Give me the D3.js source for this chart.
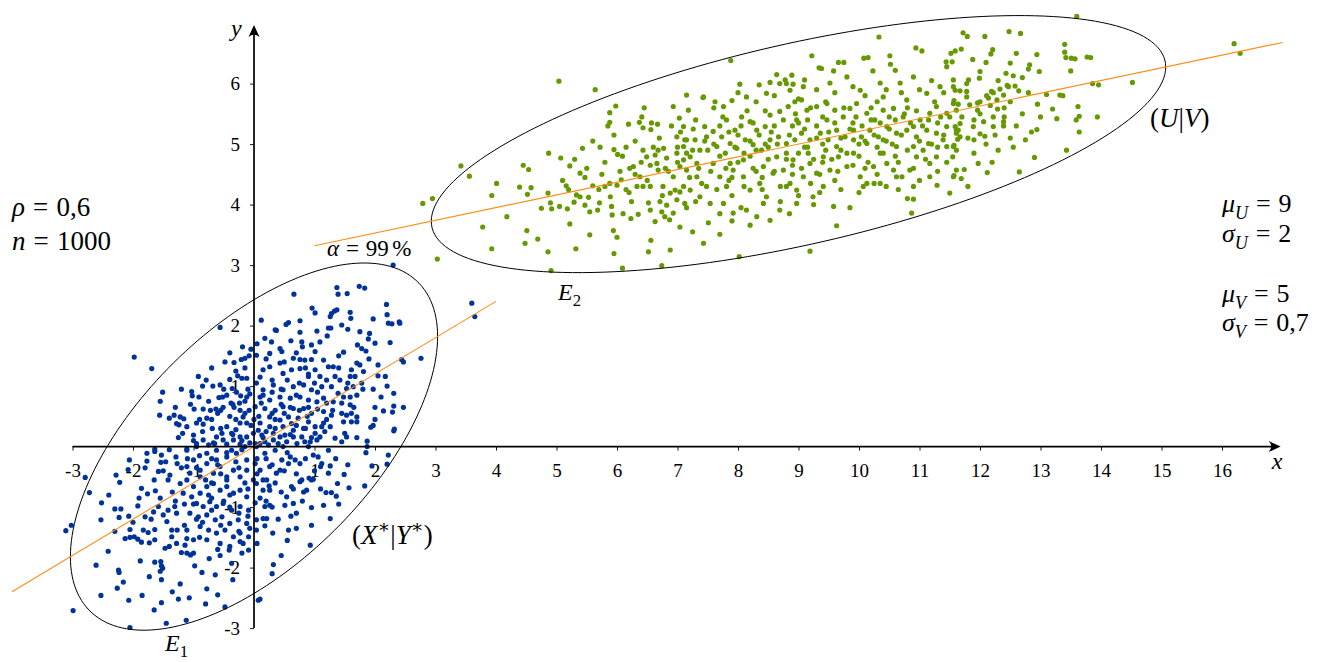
<!DOCTYPE html>
<html>
<head>
<meta charset="utf-8">
<script src="https://cdnjs.cloudflare.com/ajax/libs/d3/7.8.5/d3.min.js"></script>
<style>
  body { margin: 0; background: #fff; }
  svg text { font-family: "Liberation Serif", "DejaVu Serif", serif; fill: #000; }
</style>
</head>
<body>
<div id="chart"></div>
<script>
// axis ticks
var xTicks = [-3, -2, -1, 1, 2, 3, 4, 5, 6, 7, 8, 9, 10, 11, 12, 13, 14, 15, 16];
var yTicks = [-3, -2, -1, 1, 2, 3, 4, 5, 6];

// parameters shown on the chart
var rho = 0.6, alpha = 0.99;
var muXY = [0, 0], sdXY = [1, 1];     // standardised pair (X*|Y*)
var muUV = [9, 5], sdUV = [2, 0.7];   // pair (U|V)
var blueLineX = [-4, 4];
var greenLineX = [1, 17];

// sample (X*, Y*)
var bluePts = [
[-1.98,1.48],[-1.69,1.29],[-0.56,1.97],[-1.51,0.90],[-1.55,0.75],[-1.56,0.52],[-1.30,0.65],[-1.40,0.47],[-1.32,0.52],[-1.22,0.49],
[-1.16,0.46],[-1.28,0.38],[-1.24,0.36],[-1.11,0.33],[-1.18,0.22],[-1.03,0.91],[-1.02,0.84],[-0.91,0.82],[-0.92,1.16],[-0.79,1.10],
[-0.68,1.00],[-0.56,1.02],[-0.99,0.62],[-0.84,0.62],[-0.72,0.60],[-0.63,0.62],[-0.51,0.65],[-0.95,0.39],[-0.84,0.37],[-0.78,0.47],
[-0.69,0.30],[-0.58,0.81],[-0.52,0.82],[-0.48,1.40],[-0.33,1.39],[-0.19,1.65],[-0.05,1.61],[-0.21,1.44],[-0.15,1.46],[-0.08,1.50],
[-0.40,1.11],[-0.27,1.17],[-0.20,1.13],[-0.12,1.13],[-0.36,0.96],[-0.29,0.90],[-0.22,0.84],[-0.24,0.72],[-0.12,0.82],[-0.07,0.87],
[-0.38,0.72],[-0.33,0.65],[-0.23,0.60],[-0.18,0.49],[-0.08,0.60],[-0.23,0.39],[-0.12,0.39],[-0.45,0.33],[-0.37,0.22],[-0.53,0.22],
[-0.62,0.16],[-0.51,0.11],[-0.34,0.11],[-0.23,0.16],[-0.12,0.16],[-0.01,0.22],[-0.67,0.06],[-0.45,0.04],[-0.23,0.04],[-0.07,0.06],
[-1.00,0.19],[-0.95,0.05],[-0.84,0.11],[-0.75,0.03],[-1.64,-0.04],[-1.11,-0.04],
[1.37,2.63],[1.39,2.52],[1.54,2.53],[1.74,2.65],[1.83,2.62],[0.66,2.52],[3.60,2.37],[3.65,2.15],[2.19,2.35],[2.20,2.18],
[2.22,2.04],[2.28,2.03],[2.40,2.06],[2.41,2.04],[1.97,2.11],[2.25,1.72],[2.00,1.71],[1.91,1.87],[1.89,1.78],[1.75,1.90],
[1.71,1.68],[1.78,1.62],[1.85,1.58],[0.96,2.29],[1.01,2.21],[1.28,2.20],[1.33,2.24],[1.37,2.26],[1.26,2.15],[1.59,2.22],
[1.60,2.12],[1.45,2.01],[1.55,1.94],[0.12,2.09],[0.53,2.02],[0.57,2.05],[0.76,2.08],[0.76,1.89],[1.04,1.91],[1.23,1.96],
[1.27,1.96],[1.21,1.83],[0.18,1.79],[0.29,1.73],[0.61,1.75],[0.79,1.73],[0.80,1.65],[0.95,1.68],[1.09,1.73],[2.05,1.17],
[2.17,1.16],[1.97,0.95],[2.10,0.82],[2.31,0.88],[2.00,0.65],[2.14,0.59],[2.31,0.67],[2.47,0.65],[2.29,0.57],[1.97,0.35],
[2.32,0.29],[1.87,0.09],[2.44,1.44],[2.47,1.40],[2.76,1.46],
[1.70,1.38],[1.75,1.35],[1.61,1.27],[1.59,1.16],[1.67,1.16],[1.81,1.24],[1.78,1.05],[1.64,0.99],[1.53,0.96],[1.48,0.82],
[1.59,0.82],[1.70,0.85],[1.45,0.72],[1.59,0.69],[1.45,0.55],[1.53,0.52],[1.61,0.55],[1.70,0.49],[1.61,0.41],[1.70,0.41],
[1.48,0.41],[1.50,0.22],[1.53,0.16],[1.45,0.08],[1.34,0.14],[1.26,0.33],[1.15,0.39],[1.12,0.33],[1.17,0.25],[1.09,0.16],
[1.01,0.22],[1.04,0.11],[0.93,0.08],[0.84,0.08],[0.71,0.05],[0.65,0.16],[0.54,0.08],[0.43,0.16],[0.32,0.11],[0.18,0.08],
[0.13,0.19],[0.07,0.27],[0.35,1.93],[0.37,1.92],[0.43,1.62],[0.46,1.57],[0.26,1.54],[0.04,1.51],[0.65,1.46],[0.76,1.44],
[0.84,1.43],[0.95,1.44],[1.01,1.57],[1.15,1.43],[1.23,1.32],[1.31,1.32],[1.40,1.50],[1.48,1.56],[0.15,1.27],[0.26,1.32],
[0.43,1.38],[0.48,1.21],[0.62,1.27],[0.76,1.29],[0.90,1.16],[1.01,1.27],[1.09,1.16],[1.20,1.10],[1.34,1.16],[1.42,1.10],
[0.04,1.05],[0.15,0.94],[0.32,1.02],[0.48,0.94],[0.65,0.99],[0.82,1.02],[0.95,0.94],[1.12,0.99],[1.28,0.99],[1.39,0.88],
[0.10,0.82],[0.26,0.77],[0.43,0.82],[0.60,0.80],[0.76,0.82],[0.90,0.77],[1.04,0.74],[1.20,0.72],[1.31,0.74],[0.02,0.66],
[0.18,0.63],[0.35,0.60],[0.48,0.66],[0.65,0.63],[0.82,0.63],[0.95,0.55],[1.15,0.58],[1.28,0.52],[0.26,0.49],[0.43,0.44],
[0.57,0.49],[0.73,0.47],[0.90,0.41],[0.10,0.39],[0.26,0.33],[0.48,0.33],[0.65,0.27],[0.82,0.30],[1.01,0.33],[0.32,0.22],
[0.51,0.19],[0.79,0.16],[0.02,0.05],[0.24,0.03],
[-2.99,-2.71],[-3.11,-1.39],[-3.02,-1.30],[-2.79,-0.51],[-2.72,-0.76],[-2.52,-0.93],[-2.53,-1.21],[-2.41,-1.73],[-2.61,-1.96],[-2.53,-2.46],
[-2.30,-1.03],[-2.20,-1.03],[-2.23,-1.17],[-2.28,-0.47],[-2.22,-0.59],[-2.06,-0.22],[-2.24,-2.04],[-2.23,-2.08],[-2.16,-2.24],[-2.26,-2.34],
[-2.07,-1.15],[-2.05,-1.37],[-2.13,-1.52],[-2.05,-1.50],[-1.98,-1.49],[-1.92,-1.53],[-2.07,-2.54],[-2.05,-2.99],[-1.92,-0.98],[-1.80,-1.16],
[-1.83,-1.38],[-1.75,-1.42],[-1.86,-1.58],[-1.73,-1.59],[-1.64,-1.37],[-1.88,-1.89],[-1.73,-2.15],[-1.85,-2.46],[-1.64,-1.91],[-1.54,-1.90],
[-1.53,-1.97],[-1.55,-2.06],[-1.51,-2.01],[-1.53,-2.58],[-1.45,-2.92],[-1.53,-2.20],[-1.22,-2.27],[-1.25,-2.52],[-1.07,-2.50],[-1.12,-2.87],
[-0.48,-2.65],[-0.78,-2.35],[-0.64,-2.12],[-0.98,-1.97],[-0.86,-2.08],[-1.11,-1.76],[-1.00,-1.76],[-0.74,-1.85],[-0.56,-1.80],[-0.41,-1.71],
[-0.23,-1.57],[-0.20,-1.76],[-0.37,-1.93],[-0.09,-1.71],[0.07,-2.54],[-1.77,-0.11],[-1.64,-0.08],[-1.53,-0.14],[-1.46,-0.25],[-1.58,-0.41],
[-1.42,-0.55],[-1.39,-0.47],[-1.29,-0.17],[-1.27,-0.28],[-1.86,-0.69],[-1.76,-0.78],[-1.63,-0.73],[-1.58,-0.99],[-1.66,-1.08],[-1.50,-1.13],
[-1.42,-1.05],[-1.44,-1.24],[-1.31,-0.99],[-1.28,-1.10],[-1.36,-1.38],[-1.27,-1.38],[-1.11,-1.38],[-1.36,-1.49],[-1.28,-1.60],[-1.14,-1.63],
[-1.11,-1.52],[-1.00,-1.54],[-1.05,-1.79],[-1.40,-1.65],[-1.47,-1.68],[-1.64,-1.54],
[-1.22,-0.61],[-1.11,-0.55],[-1.00,-0.66],[-1.17,-0.77],[-1.03,-0.83],[-0.89,-0.77],[-0.78,-0.66],[-0.67,-0.61],[-0.56,-0.72],[-0.45,-0.66],
[-0.34,-0.77],[-0.23,-0.72],[-0.12,-0.83],[-0.95,-0.94],[-0.84,-0.99],[-0.73,-0.91],[-0.62,-0.99],[-0.51,-0.94],[-0.37,-1.05],[-0.23,-0.99],
[-0.09,-1.05],[-1.06,-1.10],[-0.92,-1.16],[-0.78,-1.13],[-0.64,-1.21],[-0.53,-1.16],[-0.40,-1.27],[-0.26,-1.21],[-0.12,-1.27],[-0.89,-1.32],
[-0.75,-1.38],[-0.62,-1.43],[-0.48,-1.38],[-0.34,-1.49],[-0.23,-1.43],[-0.09,-1.49],[-0.78,-1.54],[-0.56,-1.60],[-0.40,-1.65],[-0.18,-1.60],
[-1.11,-0.33],[-1.00,-0.22],[-0.89,-0.39],[-0.78,-0.28],[-0.67,-0.44],[-0.56,-0.33],[-0.45,-0.50],[-0.34,-0.39],[-0.23,-0.50],[-0.12,-0.39],
[-0.01,-0.55],[-1.11,-0.06],[-0.95,0.00],[-0.78,-0.11],[-0.62,-0.06],[-0.45,-0.17],[-0.29,-0.11],[-0.12,-0.22],[-0.89,-0.50],[-0.62,-0.22],
[-0.37,-0.06],[-0.15,0.00],[-1.06,-0.44],
[0.10,-2.52],[0.32,-1.95],[0.93,-1.63],[0.95,-1.30],[0.57,-1.38],[0.31,-1.43],[0.18,-1.31],[0.15,-1.19],[0.21,-1.19],[1.26,-1.19],
[0.95,-1.01],[0.61,-1.15],[1.15,-0.97],[1.36,-0.82],[1.28,-0.76],[1.19,-0.76],[1.57,-0.68],[1.83,-0.65],[1.38,-0.61],[1.49,-0.46],
[1.23,-0.44],[1.26,-0.32],[1.10,-0.33],[0.95,-0.55],[2.22,-0.14],[1.95,-0.32],[1.23,-0.06],[0.51,-0.97],[0.65,-0.94],[0.62,-0.66],
[0.54,-0.83],[0.82,-0.75],[0.87,-0.72],[0.76,-0.58],[0.79,-0.55],[0.91,-0.52],[0.98,-0.54],[1.12,-0.28],[1.06,-0.17],[0.98,-0.14],
[0.90,0.00],[0.76,-0.28],[0.68,-0.22],[0.57,-0.28],[0.46,-0.22],[0.02,-0.93],[0.18,-0.99],[0.26,-0.97],[0.04,-1.21],[-0.07,-1.35],
[0.04,-1.38],[0.15,-0.72],[0.26,-0.72],[0.04,-0.61],[0.21,-0.55],[0.37,-0.44],[0.10,-0.39],[0.26,-0.33],[0.02,-0.28],[0.18,-0.11],
[0.35,-0.06],[0.48,0.00],[0.60,-0.17],[0.04,0.00],[0.43,-0.39],
[2.30,3.00],[-1.77,-0.24],[-1.54,-0.26],[-2.08,-0.38],[1.87,0.00],[2.31,0.26],[2.20,-0.29],[1.93,0.32],
[-0.85,0.25],[-0.70,0.45],[-0.55,0.30],[-0.40,0.50],[-0.30,0.28],[-0.15,0.55],[-0.05,0.35],[0.08,0.50],[0.20,0.25],[0.35,0.45],
[0.50,0.55],[0.62,0.38],[0.75,0.60],[0.88,0.50],[1.05,0.62],[0.12,0.72],[0.30,0.90],[0.55,1.10],[0.70,0.85],[0.90,1.20],
[-0.10,0.95],[-0.35,0.70],[0.45,0.70],[-0.60,-0.30],[-0.45,-0.55],[-0.30,-0.25],[-0.15,-0.60],[0.05,-0.45],[0.20,-0.20],[0.35,-0.60],
[0.50,-0.40],[0.65,-0.70],[-0.75,-0.80],[-0.50,-0.90],[-0.25,-1.10],[0.10,-0.85],[0.30,-1.00],[-0.90,-0.15],[-1.20,-0.35],[-1.35,-0.75],
[-1.15,-0.95],[-0.95,-1.20],[-0.70,-1.05],[0.15,0.15],[-0.20,0.10],[0.40,0.05],[-0.45,-0.10],[0.60,0.20],[-0.65,0.05],[0.85,0.30],
[-0.95,-0.35],[-0.80,-0.55],[-0.70,-0.20],[-0.55,-0.45],[-0.40,-0.80],[-0.25,-0.35],[-0.10,-0.70],[0.05,-0.20],[0.15,-0.55],[0.30,-0.30],
[0.45,-0.75],[0.55,-0.10],[0.70,-0.45],[0.85,-0.20],[1.00,-0.40],[-0.90,0.45],[-0.75,0.75],[-0.60,0.55],[-0.45,0.85],[-0.30,0.45],
[-0.15,0.75],[0.00,0.45],[0.15,0.85],[0.30,0.55],[0.45,0.95],[0.60,0.65],[0.75,1.05],[0.90,0.65],[1.05,0.90],[1.20,0.45],
[-1.30,-0.90],[-1.15,-1.30],[-1.00,-0.95],[-0.85,-1.25],[-0.70,-0.85],[-0.55,-1.30],[-0.40,-1.00],[-0.25,-1.40],[-0.10,-1.15],[0.05,-1.60],
[0.20,-0.90],[0.40,-1.20],[0.55,-1.55],[0.70,-1.10],[0.80,-0.90],[-1.40,-0.05],[-1.25,0.15],[-1.10,-0.20],[-1.50,-0.40],[-1.65,-0.55],
[-1.80,-0.35],[-1.90,-0.85],[-2.00,-1.25],[-2.30,-1.40],[-2.40,-0.80],[-1.70,-1.20],[-1.55,-0.85],[-1.20,-1.75],[-0.90,-1.50],[-0.60,-1.70],
[0.10,1.15],[0.30,1.10],[0.50,1.40],[0.70,1.55],[0.85,1.30],[1.00,1.05],[1.15,0.80],[1.30,0.60],[1.40,1.30],[1.55,1.05],
[1.65,0.65],[1.80,0.95],[1.90,1.45],[2.05,1.35],[2.20,1.00],[-0.30,1.25],[-0.50,0.95],[-0.70,1.30],[-0.85,1.00],[-1.05,0.70],
[-1.20,0.95],[-0.40,1.55],[-0.15,1.30],[0.20,1.45],[0.05,1.70],[1.35,-0.20],[1.55,-0.30],[1.70,0.15],[1.85,-0.10],[2.00,0.45],
[1.40,-0.95],[1.10,-0.70],[0.70,-1.35],[0.45,-1.80],[0.30,-2.10],[-0.35,-2.20],[-0.80,-2.60],[-1.35,-2.40],[-1.65,-2.70],[-0.60,-2.45],
[-0.20,-0.05],[0.10,0.05],[0.35,0.30],[-0.35,0.20],[0.70,0.35],[-0.70,-0.60],[0.25,-0.65],[-0.55,0.60],[0.95,0.15],[-1.00,0.10]
];

// sample (U, V)
var greenPts = [
[5.04,6.04],[5.64,5.90],[3.42,4.64],[3.56,4.47],[2.79,4.02],[2.95,4.10],[3.03,3.10],[4.01,4.35],[3.93,4.15],[4.18,3.80],
[3.78,3.63],[3.93,3.27],[4.39,4.29],[4.52,4.17],[4.58,4.28],[4.45,4.65],[4.54,4.58],[4.87,4.85],[5.07,4.77],[5.22,4.64],
[5.43,4.93],[5.72,4.95],[5.95,4.91],[6.01,4.83],[6.09,4.80],[5.88,5.52],[5.98,5.63],[5.88,5.36],[6.19,5.33],[6.41,5.45],
[6.37,5.36],[6.43,5.27],[6.57,5.35],[6.67,5.33],[6.56,5.24],[4.86,4.19],[4.90,4.03],[4.92,3.93],[4.75,3.94],[5.05,3.97],
[5.18,3.93],[5.29,4.04],[5.16,4.31],[5.39,4.52],[5.47,4.45],[5.33,4.16],[5.39,4.13],[5.53,4.12],[5.47,3.99],[5.55,3.88],
[5.68,3.91],[5.71,4.03],[5.75,4.50],[5.60,4.31],[5.22,3.68],[5.55,3.50],[4.51,3.57],[4.48,3.36],[4.69,3.43],[4.86,3.22],
[5.32,3.27],[4.91,2.91],[5.95,3.19],[6.09,2.95],[5.94,3.57],[6.00,3.46],[5.92,3.83],[5.91,3.97],[5.89,4.13],[5.80,4.30],
[5.88,4.35],[6.00,4.32],[6.07,4.41],[6.15,4.25],[6.21,4.60],[6.27,4.63],[6.38,4.46],[6.43,4.30],[6.55,4.30],[6.33,4.30],
[6.24,4.05],[6.35,3.84],[6.23,3.77],[6.52,4.03],[6.55,3.91],[6.63,3.72],[6.56,3.41],[6.52,3.22],[6.74,2.99],[6.88,3.25],
[6.87,3.75],[6.74,3.88],[6.79,3.80],[6.71,4.05],[6.82,3.99],[6.76,4.30],[6.88,4.19],[6.43,4.90],[6.49,4.79],[6.63,4.82],
[6.68,4.90],[6.77,4.93],[6.66,4.68],[6.68,4.57],[6.82,4.77],[6.93,5.62],[7.03,5.43],[7.10,5.29],[6.99,5.12],[7.15,5.07],
[6.99,4.85],[7.10,4.74],[6.93,4.46],[7.04,4.63],[7.15,4.85],[6.96,4.24],[7.04,4.21],[7.15,5.81],[7.18,5.56],[7.10,4.30],
[6.99,4.08],[6.93,3.86],[7.04,3.63],[7.12,4.02],
[7.88,6.38],[10.33,6.77],[9.22,6.46],[9.19,3.23],[8.02,3.14],[7.43,3.36],[7.70,3.51],[7.25,3.55],[7.90,3.73],[7.51,3.70],
[8.20,3.66],[8.53,3.74],[9.63,3.65],[10.87,3.86],[10.90,4.09],[11.50,4.19],[11.29,4.32],[9.34,6.26],[9.38,6.25],[9.58,6.21],
[9.66,6.35],[9.75,6.35],[10.08,6.42],[10.15,6.43],[10.23,6.21],[10.51,6.46],[10.52,6.32],[10.60,6.22],[10.94,6.59],[11.04,6.54],
[11.44,6.36],[11.45,6.28],[11.52,6.50],[11.59,6.54],[8.64,6.15],[8.35,5.98],[8.03,5.99],[7.62,5.70],[7.42,5.77],[7.90,5.72],
[8.53,6.02],[8.69,6.00],[8.78,6.06],[8.89,6.14],[9.10,6.06],[8.91,5.99],
[7.26,5.25],[7.12,5.07],[7.21,4.79],[7.37,4.90],[7.45,5.29],[7.59,5.21],[7.73,5.12],[7.87,5.01],[7.95,5.23],[8.06,5.45],
[8.20,5.37],[8.31,5.23],[8.45,5.29],[8.53,5.48],[8.69,5.54],[8.83,5.62],[8.94,5.70],[9.05,5.73],[9.14,5.56],[9.30,5.62],
[9.47,5.67],[9.60,5.56],[9.74,5.45],[9.85,5.59],[9.96,5.67],[10.13,5.51],[10.26,5.40],[10.40,5.56],[10.57,5.59],[10.73,5.45],
[10.90,5.29],[11.01,5.40],[11.17,5.51],[11.28,5.62],[11.45,5.51],[11.56,5.67],
[7.15,4.57],[7.32,4.46],[7.48,4.30],[7.21,4.24],[7.37,4.13],[7.54,4.02],[7.70,4.46],[7.81,4.30],[7.92,4.57],[8.09,4.46],
[8.20,4.24],[8.36,4.35],[8.47,4.13],[8.58,4.52],[8.75,4.57],[8.86,4.35],[8.97,4.24],[9.08,4.46],[9.19,4.68],[9.30,4.52],
[9.41,4.30],[9.52,4.57],[9.66,4.79],[9.80,4.63],[9.91,4.85],[10.02,4.46],[10.13,4.35],[10.24,4.63],[10.35,4.85],[10.46,4.68],
[10.57,4.57],[10.71,4.46],[10.84,4.57],[10.95,4.79],[11.06,4.90],[11.17,4.68],[11.28,4.79],[11.45,4.96],[11.56,4.46],[11.67,5.12],
[7.10,4.96],[7.29,5.07],[7.48,5.12],[7.65,4.96],[7.79,4.85],[7.98,4.93],[8.12,5.07],[8.25,4.99],[8.39,4.90],[8.53,5.07],
[8.67,5.12],[8.80,5.01],[8.94,5.07],[9.05,5.18],[9.19,5.07],[9.36,5.18],[9.49,5.07],[9.63,5.23],[9.77,5.12],[9.91,5.23],
[10.04,5.12],[10.18,5.23],[10.32,5.12],[10.46,5.29],[10.62,5.18],[10.79,5.23],[10.95,5.12],[11.12,5.23],[11.28,5.18],[11.45,5.29],
[11.61,5.23],[7.59,4.68],[8.09,4.74],[8.64,4.79],[9.16,4.85],[9.63,4.96],[10.13,5.01],[10.62,4.96],[11.15,5.01],[11.61,4.90],
[7.32,4.68],[7.87,4.68],[8.42,4.63],[8.91,4.74],[9.41,4.79],[9.91,5.07],[10.40,5.07],[10.90,4.96],[11.39,5.07],
[7.43,5.78],[7.76,5.62],[8.14,5.78],[8.47,5.84],[8.86,5.89],[9.08,5.95],[9.52,6.01],[9.80,6.11],[10.02,5.89],[10.35,6.01],
[10.68,6.01],[10.90,6.11],[11.12,5.84],[11.34,5.95],[11.56,6.06],[10.40,5.78],[10.79,5.73],[9.47,5.40],[8.97,5.40],[7.81,5.40],
[7.76,4.02],[8.14,3.91],[8.42,4.02],[8.69,3.91],[8.97,4.02],[9.24,4.13],[9.58,3.97],[10.07,4.30],[10.35,4.35],[10.62,4.46],
[10.90,4.30],[11.17,4.46],[11.61,4.57],[8.80,4.30],[8.31,3.80],[7.92,3.86],
[13.60,7.11],[16.20,6.66],[16.30,6.50],[14.52,6.02],[13.86,6.00],[13.96,5.98],[13.94,5.45],[13.62,5.62],[13.64,5.46],[13.59,5.40],
[13.64,5.20],[13.43,4.90],[13.27,5.42],[13.20,5.58],[13.00,5.45],[12.95,5.66],[12.94,5.24],[12.75,5.07],[12.90,4.78],[12.65,4.54],
[13.40,6.65],[13.40,6.52],[13.42,6.43],[13.51,6.42],[13.57,6.41],[13.77,6.44],[13.83,6.43],[13.50,6.21],[13.10,5.82],[13.32,5.81],
[13.37,5.80],[12.48,6.86],[12.67,6.83],[12.08,6.78],[11.72,6.84],[11.79,6.78],[12.94,6.48],[12.82,6.31],[12.80,6.24],[12.98,6.20],
[12.70,6.10],[12.55,6.13],[12.43,6.17],[12.50,6.34],[12.58,5.96],[12.64,5.88],[12.47,5.95],[12.45,5.97],[12.33,5.91],[12.39,5.81],
[12.28,5.73],[12.19,5.87],[12.22,5.85],[12.11,5.80],[12.14,5.76],[11.99,6.09],[11.81,6.06],[11.78,6.00],[11.69,6.57],[11.54,6.36],
[11.88,6.40],[12.10,6.35],[12.21,6.56],[12.18,6.49],
[11.56,5.95],[11.59,5.89],[11.67,5.88],[11.78,5.87],[11.57,5.72],[11.64,5.66],[11.61,5.56],[11.50,5.45],[11.59,5.29],[11.64,5.23],
[11.61,5.18],[11.67,5.34],[11.63,5.08],[11.56,4.96],[11.57,4.98],[11.55,4.79],[11.57,4.48],[11.69,4.43],[11.74,4.58],[11.90,5.07],
[11.89,5.29],[11.90,5.40],[12.06,5.37],[12.08,5.13],[12.00,5.17],[12.22,5.45],[12.22,5.29],[12.39,5.37],[12.39,5.30],[12.29,5.58],
[12.40,5.60],[12.17,5.64],[11.96,5.56],[11.96,5.68],[11.78,5.78],[11.83,5.65],[11.97,4.68],[12.12,4.53],
[8.20,4.80],[8.50,4.95],[8.80,4.85],[9.10,4.95],[9.40,5.00],[9.70,4.90],[10.00,5.00],[10.30,4.95],[8.60,5.30],[9.00,5.35],
[9.30,5.30],[9.90,5.35],[10.20,5.40],[7.90,4.45],[8.30,4.55],[8.90,4.65],[9.20,4.35],[9.60,4.40],[10.10,4.60],[10.60,4.80],
[7.50,4.90],[7.70,5.30],[8.00,5.15],[10.50,5.45],[10.80,5.60],[11.30,5.35],[12.00,5.50],[12.50,5.10],[6.80,4.60],[6.50,4.40],
[6.20,4.20],[7.00,4.70],
[6.60,4.95],[6.70,5.10],[6.85,4.55],[6.90,5.30],[7.00,4.95],[7.05,5.20],[7.20,4.45],[7.25,4.90],[7.30,5.40],[7.35,4.60],
[7.40,4.35],[7.45,5.05],[6.55,4.65],[6.75,4.15],[7.15,3.95],[7.30,4.05],
[7.55,4.55],[7.60,5.00],[7.65,4.25],[7.70,4.80],[7.75,5.45],[7.80,4.60],[7.85,5.20],[7.90,4.15],[7.95,4.95],[8.00,4.70],
[8.05,5.30],[8.10,4.30],[8.15,5.55],[8.20,5.05],[8.25,4.60],[8.30,4.90],[8.35,5.15],[8.40,4.45],[8.45,5.00],[8.50,4.75],
[7.60,5.60],[8.00,5.85],[8.30,5.70],[7.70,3.85],[8.05,3.95],[8.40,4.25],[8.45,5.55],[8.10,4.85],[7.85,4.40],[8.25,5.35],
[8.55,5.20],[8.60,4.55],[8.65,5.00],[8.70,4.30],[8.75,5.40],[8.80,4.75],[8.85,5.15],[8.90,4.50],[8.95,5.50],[9.00,4.85],
[9.05,4.60],[9.10,5.25],[9.15,4.95],[9.20,5.60],[9.25,4.75],[9.30,5.10],[9.35,4.50],[9.40,5.45],[9.45,4.90],[9.50,5.20],
[8.60,5.80],[8.80,6.00],[9.00,5.75],[9.30,5.90],[9.45,5.70],[8.70,4.05],[9.00,4.15],[9.35,4.20],[8.85,3.85],[9.25,4.00],
[9.15,5.40],[8.90,5.30],[9.40,4.70],
[9.55,4.75],[9.60,5.35],[9.65,4.55],[9.70,5.10],[9.75,5.60],[9.80,4.85],[9.85,5.25],[9.90,4.65],[9.95,5.45],[10.00,4.80],
[10.05,5.30],[10.10,5.05],[10.15,4.70],[10.20,5.60],[10.25,5.15],[10.30,4.50],[10.35,5.35],[10.40,4.85],[10.45,5.05],[10.50,5.25],
[9.60,5.85],[9.90,5.95],[10.10,5.80],[10.30,5.70],[10.45,5.90],[9.70,4.25],[10.00,4.20],[10.25,4.35],[9.85,3.95],[10.45,4.30],
[10.55,5.00],[10.60,5.40],[10.65,4.70],[10.70,5.15],[10.75,5.50],[10.80,4.90],[10.85,5.35],[10.90,4.60],[10.95,5.55],[11.00,5.05],
[11.05,5.30],[11.10,4.75],[11.15,5.40],[11.20,5.00],[11.25,5.70],[11.30,4.95],[11.35,5.45],[11.40,5.15],[11.45,4.70],[10.70,5.85],
[11.00,5.90],[11.20,6.05],[11.40,5.85],[10.65,4.25],[11.00,4.40],[11.30,4.55],[10.80,4.10],
[11.70,5.45],[11.80,5.10],[11.90,4.85],[12.00,5.70],[12.10,5.00],[12.25,5.15],[12.30,4.90],[12.40,5.45],[12.50,5.70],[12.55,4.95],
[12.60,5.30],[12.70,5.50],[12.80,5.85],[12.85,5.20],[12.00,6.20],[12.30,6.05],[12.60,6.50],[11.80,4.30],[12.20,4.70],
[5.10,4.40],[5.30,4.75],[5.50,4.60],[5.60,5.05],[5.80,4.70],[5.95,5.15],[6.05,4.55],[6.15,4.95],[6.30,5.05],[6.40,4.70],
[5.20,4.25],[5.70,4.25],[6.10,3.85],[6.30,4.50],[5.85,5.30],[6.45,5.60]
];

var width = 1327, height = 662;

var x = d3.scaleLinear().domain([-3, 17]).range([72.5, 1282.5]);
var y = d3.scaleLinear().domain([-3, 7]).range([628.1, 23.1]);

var svg = d3.select("#chart").append("svg")
  .attr("width", width)
  .attr("height", height);

// tick marks and labels (under the dots)
var xAxis = svg.append("g")
  .attr("transform", "translate(0," + y(0) + ")")
  .call(d3.axisBottom(x).tickValues(xTicks).tickSizeInner(4).tickSizeOuter(0)
    .tickFormat(function(d) { return String(d); }));
var yAxis = svg.append("g")
  .attr("transform", "translate(" + x(0) + ",0)")
  .call(d3.axisLeft(y).tickValues(yTicks).tickSizeInner(4).tickSizeOuter(0)
    .tickFormat(function(d) { return String(d); }));

[xAxis, yAxis].forEach(function(g) {
  g.attr("font-family", null).attr("font-size", null);
  g.select(".domain").remove();
  g.selectAll(".tick line").attr("stroke", "#000").attr("stroke-width", 0.9);
  g.selectAll(".tick text")
    .attr("fill", "#000")
    .style("font-size", "19px");
});
xAxis.selectAll(".tick text").attr("y", 30).attr("dy", 0);
yAxis.selectAll(".tick text").attr("x", -14).attr("dy", "0.33em");

// annotations
var annot = svg.append("g");

function mathText(x0, y0, size, parts) {
  var t = annot.append("text").attr("x", x0).attr("y", y0).style("font-size", size + "px");
  var shift = 0, pad = 0;
  parts.forEach(function(p) {
    var s = t.append("tspan").text(p.t);
    var target = p.sub ? 0.25 * size : (p.sup ? -0.4 * size : 0);
    var dx = pad + (p.op ? 0.3 * size : 0) + (p.dx || 0) * size;
    if (dx) s.attr("dx", dx);
    if (target !== shift) { s.attr("dy", target - shift); shift = target; }
    if (p.sub || p.sup) s.style("font-size", (0.7 * size) + "px");
    if (p.it) s.style("font-style", "italic");
    pad = p.op ? 0.3 * size : 0;
  });
  return t;
}

mathText(12, 216, 27, [{t: "ρ", it: 1}, {t: "=", op: 1}, {t: "0,6"}]);
mathText(12, 250, 27, [{t: "n", it: 1}, {t: "=", op: 1}, {t: "1000"}]);
mathText(327, 256, 23, [{t: "α", it: 1}, {t: "=", op: 1}, {t: "99"}, {t: "%", dx: 0.15}]);
mathText(165, 651, 24, [{t: "E", it: 1}, {t: "1", sub: 1}]);
mathText(558, 300, 24, [{t: "E", it: 1}, {t: "2", sub: 1}]);
mathText(352, 544, 27, [{t: "("}, {t: "X", it: 1}, {t: "∗", sup: 1}, {t: "|"}, {t: "Y", it: 1}, {t: "∗", sup: 1}, {t: ")"}]);
mathText(1150, 127, 27, [{t: "("}, {t: "U", it: 1}, {t: "|"}, {t: "V", it: 1}, {t: ")"}]);
mathText(1222, 212, 26, [{t: "μ", it: 1}, {t: "U", it: 1, sub: 1}, {t: "=", op: 1}, {t: "9"}]);
mathText(1222, 242, 26, [{t: "σ", it: 1}, {t: "U", it: 1, sub: 1}, {t: "=", op: 1}, {t: "2"}]);
mathText(1222, 302, 26, [{t: "μ", it: 1}, {t: "V", it: 1, sub: 1}, {t: "=", op: 1}, {t: "5"}]);
mathText(1222, 331, 26, [{t: "σ", it: 1}, {t: "V", it: 1, sub: 1}, {t: "=", op: 1}, {t: "0,7"}]);

// dots
svg.append("g").selectAll("circle")
  .data(bluePts).enter().append("circle")
  .attr("cx", function(d) { return x(d[0]); })
  .attr("cy", function(d) { return y(d[1]); })
  .attr("r", 2.6)
  .style("fill", "#003399");

svg.append("g").selectAll("circle")
  .data(greenPts).enter().append("circle")
  .attr("cx", function(d) { return x(d[0]); })
  .attr("cy", function(d) { return y(d[1]); })
  .attr("r", 2.6)
  .style("fill", "#669900");

// confidence ellipses (chi-square, 2 dof)
var radius = Math.sqrt(-2 * Math.log(1 - alpha));
function ellipse(mu, sd) {
  return d3.range(0, 360, 2).map(function(deg) {
    var t = deg * Math.PI / 180, a = radius * Math.cos(t), b = radius * Math.sin(t);
    return [mu[0] + sd[0] * a, mu[1] + sd[1] * (rho * a + Math.sqrt(1 - rho * rho) * b)];
  });
}
var lineGen = d3.line().x(function(d) { return x(d[0]); }).y(function(d) { return y(d[1]); });

[[muXY, sdXY], [muUV, sdUV]].forEach(function(p) {
  svg.append("path")
    .attr("d", lineGen.curve(d3.curveLinearClosed)(ellipse(p[0], p[1])))
    .attr("fill", "none").attr("stroke", "#000").attr("stroke-width", 1);
});
lineGen.curve(d3.curveLinear);

// regression lines
function regLine(mu, sd, xs) {
  var b = rho * sd[1] / sd[0];
  return xs.map(function(v) { return [v, mu[1] + b * (v - mu[0])]; });
}
svg.append("path").attr("d", lineGen(regLine(muXY, sdXY, blueLineX)))
  .attr("stroke", "#ff8c1a").attr("stroke-width", 1.1).attr("fill", "none");
svg.append("path").attr("d", lineGen(regLine(muUV, sdUV, greenLineX)))
  .attr("stroke", "#ff8c1a").attr("stroke-width", 1.1).attr("fill", "none");

// axis lines with arrows
var xEnd = 16.97, yEnd = 6.97;
svg.append("line")
  .attr("x1", x(-3)).attr("x2", x(xEnd) - 4)
  .attr("y1", y(0)).attr("y2", y(0))
  .attr("stroke", "#000").attr("stroke-width", 1.7);
svg.append("line")
  .attr("x1", x(0)).attr("x2", x(0))
  .attr("y1", y(-3)).attr("y2", y(yEnd) + 4)
  .attr("stroke", "#000").attr("stroke-width", 1.7);
var arrow = "M0,0 L-12,-5.5 Q-7,0 -12,5.5 Z";
svg.append("path").attr("d", arrow)
  .attr("transform", "translate(" + x(xEnd) + "," + y(0) + ")");
svg.append("path").attr("d", arrow)
  .attr("transform", "translate(" + x(0) + "," + y(yEnd) + ") rotate(-90)");

annot.append("text").attr("x", x(xEnd) - 9).attr("y", y(0) + 22)
  .style("font-size", "24px").style("font-style", "italic").text("x");
annot.append("text").attr("x", x(0) - 23).attr("y", y(yEnd) + 11)
  .style("font-size", "24px").style("font-style", "italic").text("y");
</script>
</body>
</html>
